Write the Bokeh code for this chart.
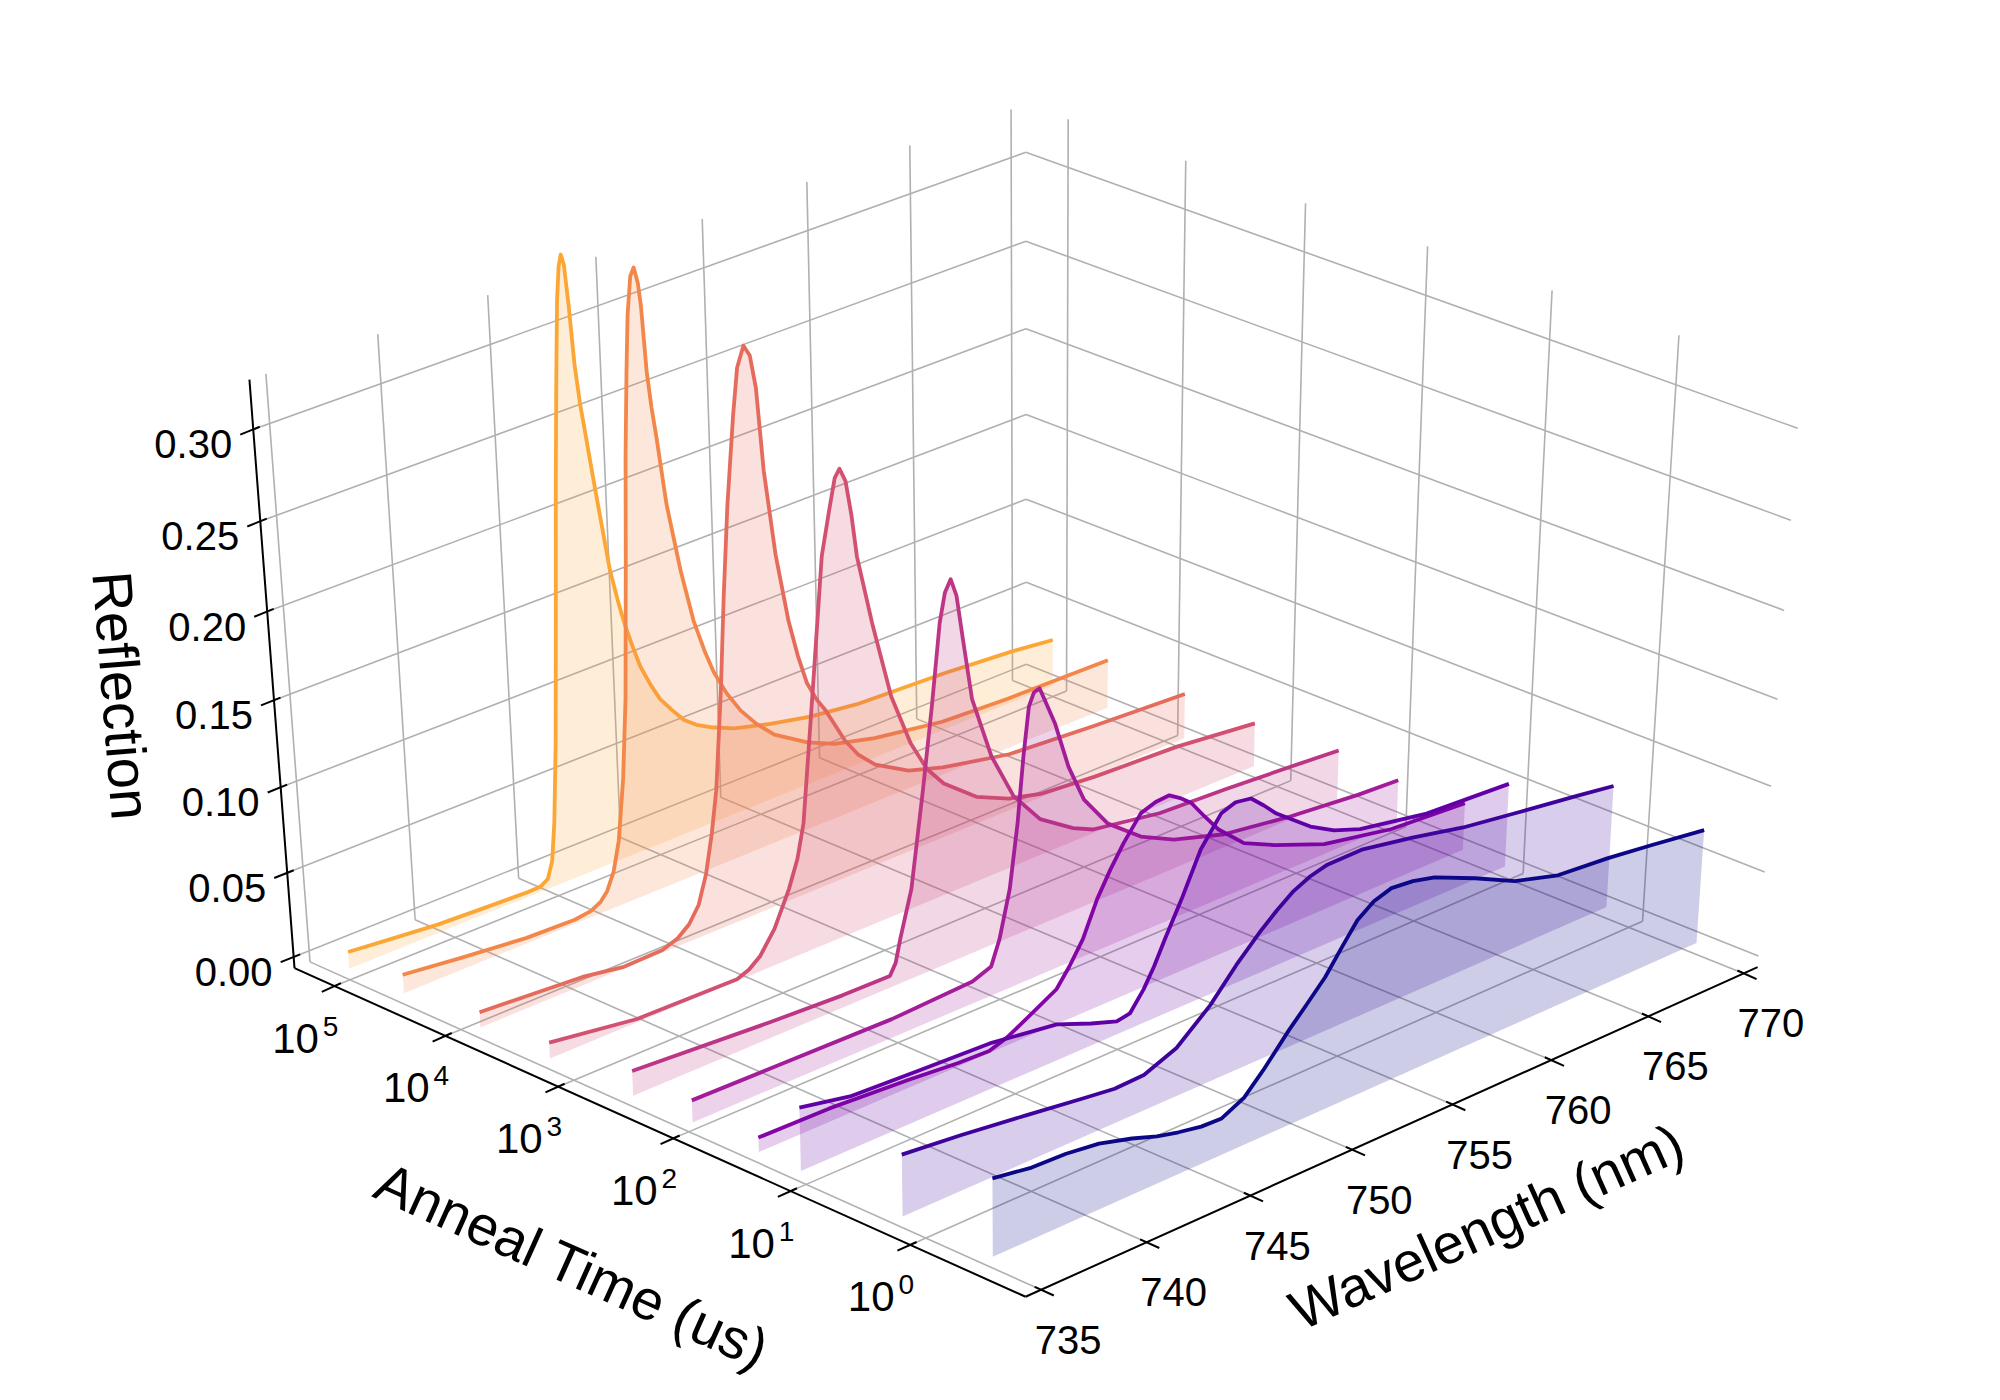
import numpy as np
from bokeh.plotting import figure
from bokeh.models import Range1d
from bokeh.embed import file_html
from bokeh.resources import INLINE
from bokeh.core.properties import value
from bokeh.palettes import Plasma256

# ---------------- data ----------------
anneal_time_us = [1e5, 3.2e4, 6.6e3, 1.6e3, 300, 92, 25, 11, 1.55, 0.28]

wl_1 = [735.0, 737.03, 739.22, 741.62, 743.55, 744.14, 744.52, 744.77, 744.96, 745.2, 745.5, 745.79, 746.04, 746.24,
        746.38, 746.5, 746.62, 746.75, 746.9, 747.07, 747.23, 747.49, 747.77, 748.12, 748.45, 748.69, 749.04, 749.37,
        749.84, 750.26, 750.83, 751.38, 752.03, 752.66, 753.81, 755.45, 757.58, 759.93, 764.38, 767.84, 770.0]
refl_1 = [0.010, 0.0075, 0.005, 0.0037, 0.0028, 0.003, 0.0058, 0.0155, 0.0375, 0.082, 0.155, 0.229, 0.286, 0.3275,
          0.345, 0.351, 0.345, 0.3235, 0.290, 0.268, 0.253, 0.228, 0.202, 0.170, 0.150, 0.137, 0.1217, 0.1085,
          0.0952, 0.085, 0.0757, 0.0674, 0.0612, 0.057, 0.0508, 0.0455, 0.040, 0.0363, 0.034, 0.031, 0.028]

wl_2 = [735.0, 737.78, 740.85, 743.16, 743.94, 744.43, 744.76, 745.11, 745.42, 745.75, 746.02, 746.3, 746.48, 746.68,
        746.83, 747.02, 747.19, 747.35, 747.45, 747.6, 747.76, 747.94, 748.29, 748.84, 749.37, 749.84, 750.24, 750.83,
        751.49, 752.23, 753.09, 754.7, 756.04, 758.04, 761.45, 764.81, 770.0]
refl_2 = [0.011, 0.007, 0.0032, 0.0024, 0.0037, 0.0068, 0.0115, 0.0215, 0.0385, 0.0736, 0.119, 0.198, 0.2535, 0.2995,
          0.329, 0.349, 0.353, 0.344, 0.332, 0.2955, 0.275, 0.2575, 0.219, 0.179, 0.148, 0.1286, 0.1145, 0.0993,
          0.0859, 0.0746, 0.0642, 0.0519, 0.0445, 0.0384, 0.032, 0.030, 0.029]

wl_3 = [735.0, 739.86, 741.78, 743.69, 744.43, 745.01, 745.5, 745.9, 746.24, 746.52, 746.89, 747.16, 747.46, 747.85,
        748.1, 748.42, 748.7, 748.94, 749.2, 749.65, 750.18, 750.58, 751.0, 751.43, 751.86, 752.79, 753.43, 754.24,
        755.88, 757.58, 760.93, 765.34, 770.0]
refl_3 = [0.009, 0.005, 0.001, 0.0015, 0.0047, 0.0103, 0.0195, 0.0357, 0.058, 0.0821, 0.138, 0.190, 0.239, 0.287,
          0.312, 0.3225, 0.316, 0.2975, 0.251, 0.2025, 0.1627, 0.141, 0.1228, 0.1116, 0.1031, 0.0807, 0.0694, 0.0598,
          0.0483, 0.042, 0.0338, 0.030, 0.027]

wl_4 = [735.0, 739.13, 743.93, 744.52, 745.07, 745.79, 746.53, 746.98, 747.31, 747.9, 748.46, 748.85, 749.14, 749.37,
        749.64, 749.89, 750.11, 750.78, 751.64, 752.55, 753.33, 754.15, 755.76, 757.38, 759.06, 761.73, 765.95, 770.0]
refl_4 = [0.0095, 0.002, 0.001, 0.0037, 0.009, 0.0215, 0.0412, 0.057, 0.0762, 0.1505, 0.223, 0.2465, 0.263, 0.267,
          0.259, 0.239, 0.2153, 0.1747, 0.1289, 0.0975, 0.0787, 0.0662, 0.0505, 0.0416, 0.0364, 0.0336, 0.0313, 0.026]

wl_5 = [735.0, 741.48, 745.01, 747.32, 747.61, 747.85, 748.42, 749.04, 749.51, 749.92, 750.18, 750.46, 750.73, 751.02,
        751.44, 752.36, 753.44, 754.75, 756.39, 757.39, 760.75, 764.12, 767.56, 770.0]
refl_5 = [0.0147, 0.0094, 0.0073, 0.007, 0.0133, 0.0263, 0.0528, 0.1078, 0.1533, 0.198, 0.2137, 0.220, 0.2097, 0.184,
          0.148, 0.111, 0.0825, 0.0627, 0.0493, 0.0436, 0.0368, 0.0347, 0.0319, 0.0296]

wl_6 = [735.0, 738.64, 744.52, 748.45, 749.37, 749.78, 750.29, 750.68, 750.97, 751.24, 751.48, 751.75, 752.03, 752.5,
        753.16, 753.93, 755.12, 756.77, 758.44, 760.99, 764.42, 767.89, 770.0]
refl_6 = [0.013, 0.0122, 0.011, 0.013, 0.0173, 0.0313, 0.0582, 0.0946, 0.1317, 0.1589, 0.1656, 0.1667, 0.158, 0.1432,
          0.1153, 0.0925, 0.0727, 0.057, 0.047, 0.0376, 0.0315, 0.0274, 0.026]

wl_7 = [735.0, 738.32, 742.1, 744.52, 746.02, 746.88, 747.63, 749.31, 749.94, 750.6, 751.29, 751.93, 752.57, 753.41,
        754.13, 754.8, 755.34, 755.9, 756.56, 757.26, 758.58, 760.11, 762.69, 766.17, 770.0]
refl_7 = [0.0085, 0.0078, 0.0047, 0.002, 0.0013, 0.0047, 0.0095, 0.0208, 0.031, 0.0437, 0.0637, 0.0777, 0.0899,
          0.1031, 0.106, 0.1066, 0.1024, 0.0968, 0.0859, 0.0749, 0.0603, 0.0516, 0.0394, 0.0313, 0.028]

wl_8 = [735.0, 737.36, 740.66, 744.01, 747.26, 748.95, 750.2, 750.85, 751.52, 752.03, 752.54, 753.4, 754.26, 755.25,
        755.95, 756.72, 757.37, 758.01, 759.75, 760.96, 762.3, 765.72, 770.0]
refl_8 = [0.037, 0.031, 0.0289, 0.027, 0.0213, 0.013, 0.0077, 0.0091, 0.0199, 0.031, 0.0441, 0.065, 0.088, 0.104,
          0.107, 0.1054, 0.0982, 0.0904, 0.0743, 0.0662, 0.0603, 0.0527, 0.0495]

wl_9 = [735.0, 737.76, 740.89, 743.61, 745.11, 746.53, 748.11, 749.74, 750.98, 752.14, 752.93, 753.74, 754.54, 755.39,
        757.09, 759.64, 762.22, 764.97, 768.13, 770.0]
refl_9 = [0.036, 0.0324, 0.0274, 0.0228, 0.0204, 0.021, 0.0285, 0.0451, 0.062, 0.0757, 0.0838, 0.0909, 0.0953, 0.0979,
          0.0981, 0.0925, 0.0857, 0.0808, 0.0754, 0.072]

wl_10 = [735.0, 736.83, 738.45, 740.01, 741.58, 742.78, 743.82, 744.92, 745.91, 746.98, 747.9, 749.11, 749.94, 750.83,
         751.63, 752.34, 753.13, 753.98, 755.04, 756.12, 758.16, 760.21, 762.42, 764.99, 767.27, 770.0]
refl_10 = [0.0455, 0.0418, 0.041, 0.0385, 0.033, 0.0278, 0.0246, 0.022, 0.0215, 0.0278, 0.0391, 0.0559, 0.0663,
           0.0777, 0.0912, 0.1027, 0.1096, 0.1128, 0.1115, 0.1083, 0.0976, 0.0857, 0.0781, 0.0753, 0.0717, 0.067]

wavelengths = [wl_1, wl_2, wl_3, wl_4, wl_5, wl_6, wl_7, wl_8, wl_9, wl_10]
reflections = [refl_1, refl_2, refl_3, refl_4, refl_5, refl_6, refl_7, refl_8, refl_9, refl_10]

wavelength_ticks = [735, 740, 745, 750, 755, 760, 765, 770]
anneal_tick_exponents = [0, 1, 2, 3, 4, 5]
reflection_ticks = [0.00, 0.05, 0.10, 0.15, 0.20, 0.25, 0.30]
reflection_tick_labels = ["0.00", "0.05", "0.10", "0.15", "0.20", "0.25", "0.30"]

x_label = "Wavelength (nm)"
y_label = "Anneal Time (us)"
z_label = "Reflection"

# axis limits (matplotlib-style 3D box padded by 1/48 of each range)
WL_LIM = (735.0, 770.0)
LOGT_LIM = (-0.82, 5.24)
R_LIM = (0.0, 0.32)


def padded(lim):
    d = (lim[1] - lim[0]) / 48.0
    return lim[0] - d, lim[1] + d


WLO, WHI = padded(WL_LIM)
LLO, LHI = padded(LOGT_LIM)
RLO, RHI = padded(R_LIM)

# ---------------- camera: projective view fitted to where the box corners sit on the canvas ----------------
VIEW_ANCHORS = [
    ((0, 0, 0), (1025, 1296)),
    ((1, 0, 0), (1757, 967)),
    ((0, 1, 0), (294, 968)),
    ((1, 1, 0), (1026, 674)),
    ((0, 1, 1), (249, 379)),
    ((1, 1, 1), (1025, 104)),
    ((1, 0, 1), (1801, 378)),
]


def fit_view(anchors):
    rows = []
    for (u, v, t), (x, y) in anchors:
        X = np.array([u, v, t, 1.0])
        xs, ys = x / 1000.0, y / 1000.0
        rows.append(np.concatenate([X, np.zeros(4), -xs * X]))
        rows.append(np.concatenate([np.zeros(4), X, -ys * X]))
    _, _, vt = np.linalg.svd(np.array(rows))
    return vt[-1].reshape(3, 4)


PMAT = fit_view(VIEW_ANCHORS)


def project(w, lt, r):
    w, lt, r = np.broadcast_arrays(np.asarray(w, float), np.asarray(lt, float), np.asarray(r, float))
    u = (w - WLO) / (WHI - WLO)
    v = (lt - LLO) / (LHI - LLO)
    t = (r - RLO) / (RHI - RLO)
    H = PMAT @ np.vstack([u.ravel(), v.ravel(), t.ravel(), np.ones(u.size)])
    return (1000.0 * H[0] / H[2]).reshape(u.shape), (1000.0 * H[1] / H[2]).reshape(u.shape)


def seg(a, b):
    xa, ya = project(*a)
    xb, yb = project(*b)
    return [float(xa), float(xb)], [float(ya), float(yb)]


def unit_dir(a, b):
    xa, ya = project(*a)
    xb, yb = project(*b)
    d = np.array([float(xb - xa), float(yb - ya)])
    return d / np.hypot(*d)


# ---------------- figure ----------------
W, H = 1984, 1384
p = figure(width=W, height=H, x_range=Range1d(0, W), y_range=Range1d(H, 0),
           output_backend="svg", toolbar_location=None, min_border=0)
p.axis.visible = False
p.xgrid.visible = False
p.ygrid.visible = False
p.outline_line_color = None
p.background_fill_color = "white"

GRID = "#b0b0b0"
xs_g, ys_g = [], []
for wv in wavelength_ticks:
    for a, b in [((wv, LHI, RLO), (wv, LHI, RHI)), ((wv, LLO, RLO), (wv, LHI, RLO))]:
        sx, sy = seg(a, b)
        xs_g.append(sx); ys_g.append(sy)
for e in anneal_tick_exponents:
    for a, b in [((WHI, e, RLO), (WHI, e, RHI)), ((WLO, e, RLO), (WHI, e, RLO))]:
        sx, sy = seg(a, b)
        xs_g.append(sx); ys_g.append(sy)
for rv in reflection_ticks:
    for a, b in [((WLO, LHI, rv), (WHI, LHI, rv)), ((WHI, LLO, rv), (WHI, LHI, rv))]:
        sx, sy = seg(a, b)
        xs_g.append(sx); ys_g.append(sy)
p.multi_line(xs_g, ys_g, line_color=GRID, line_width=1.6)

# axis lines
xs_a, ys_a = [], []
for a, b in [((WLO, LLO, RLO), (WHI, LLO, RLO)), ((WLO, LLO, RLO), (WLO, LHI, RLO)),
             ((WLO, LHI, RLO), (WLO, LHI, RHI))]:
    sx, sy = seg(a, b)
    xs_a.append(sx); ys_a.append(sy)

# ticks
IN, OUT = 7.0, 14.0
d_w = unit_dir((WLO, LLO, RLO), (WLO, LLO - 0.2, RLO))      # outward for wavelength ticks
d_l = unit_dir((WLO, LLO, RLO), (WLO - 1.0, LLO, RLO))      # outward for anneal ticks
d_z = unit_dir((WLO, LHI, 0.0), (WLO - 1.0, LHI, 0.0))      # outward for reflection ticks

wx, wy = project(wavelength_ticks, LLO, RLO)
lx, ly = project(WLO, anneal_tick_exponents, RLO)
zx, zy = project(WLO, LHI, reflection_ticks)
for X, Y, d in [(wx, wy, d_w), (lx, ly, d_l), (zx, zy, d_z)]:
    for x0, y0 in zip(X, Y):
        xs_a.append([x0 - IN * d[0], x0 + OUT * d[0]])
        ys_a.append([y0 - IN * d[1], y0 + OUT * d[1]])
p.multi_line(xs_a, ys_a, line_color="black", line_width=2)

# tick labels
TICK_FONT = value("Liberation Sans")
p.text(x=list(wx + 27), y=list(wy + 50), text=[str(v) for v in wavelength_ticks], text_font=TICK_FONT,
       text_font_size=value("40px"), text_align="center", text_baseline="middle", text_color="black")
p.text(x=list(zx - 60), y=list(zy + 15), text=reflection_tick_labels, text_font=TICK_FONT,
       text_font_size=value("40px"), text_align="center", text_baseline="middle", text_color="black")
p.text(x=list(lx - 39), y=list(ly + 52), text=["10"] * len(anneal_tick_exponents), text_font=TICK_FONT,
       text_font_size=value("42px"), text_align="center", text_baseline="middle", text_color="black")
p.text(x=list(lx - 4), y=list(ly + 40), text=[str(e) for e in anneal_tick_exponents], text_font=TICK_FONT,
       text_font_size=value("28px"), text_align="center", text_baseline="middle", text_color="black")

# axis labels (rotated along their axes)
LABEL_FONT = value("Liberation Sans")
p.text(x=[1486], y=[1226], text=[x_label], angle=[np.deg2rad(24.2)], text_font=LABEL_FONT,
       text_font_size=value("56px"), text_align="center", text_baseline="middle", text_color="black")
p.text(x=[572], y=[1265], text=[y_label], angle=[np.deg2rad(-24.2)], text_font=LABEL_FONT,
       text_font_size=value("56px"), text_align="center", text_baseline="middle", text_color="black")
p.text(x=[121], y=[695], text=[z_label], angle=[np.deg2rad(-85.5)], text_font=LABEL_FONT,
       text_font_size=value("56px"), text_align="center", text_baseline="middle", text_color="black")

# ---------------- spectra: back (long anneal) to front ----------------
n = len(anneal_time_us)
fracs = np.linspace(0.8, 0.0, n)
colors = [Plasma256[int(round(f * 255))] for f in fracs]
for i in range(n):
    lt = np.log10(anneal_time_us[i])
    w = np.asarray(wavelengths[i], float)
    r = np.asarray(reflections[i], float)
    cx, cy = project(w, lt, r)
    bx, by = project([w[-1], w[0]], lt, [0.0, 0.0])
    p.patch(list(cx) + list(bx), list(cy) + list(by), fill_color=colors[i], fill_alpha=0.2, line_color=None)
    p.line(list(cx), list(cy), line_color=colors[i], line_width=3.8, line_join="round")

open("out.html", "w").write(file_html(p, INLINE))
